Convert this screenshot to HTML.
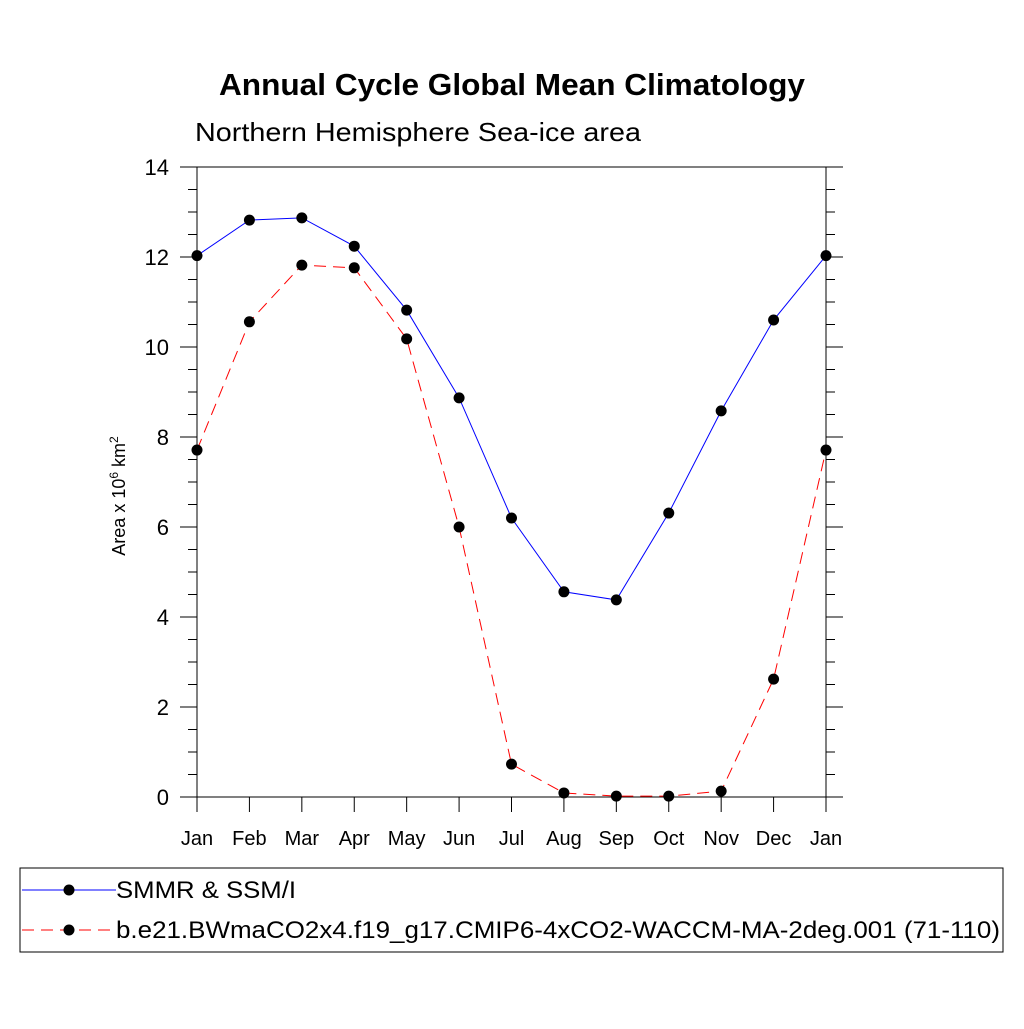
<!DOCTYPE html>
<html><head><meta charset="utf-8"><style>
body{margin:0;background:#fff}
svg text{font-family:"Liberation Sans",sans-serif;fill:#000}
</style></head><body>
<svg id="chart" width="1024" height="1024" viewBox="0 0 1024 1024">
<text x="512" y="95" text-anchor="middle" font-size="31" font-weight="bold" textLength="586" lengthAdjust="spacingAndGlyphs">Annual Cycle Global Mean Climatology</text>
<text x="195" y="141" font-size="26" textLength="446" lengthAdjust="spacingAndGlyphs">Northern Hemisphere Sea-ice area</text>
<text transform="translate(125,496) rotate(-90)" text-anchor="middle" font-size="18">Area x 10<tspan dy="-7" font-size="12">6</tspan><tspan dy="7"> km</tspan><tspan dy="-7" font-size="12">2</tspan></text>
<g id="axes"></g>
<g id="series"></g>
<rect x="20" y="868" width="983" height="84" fill="none" stroke="#000" stroke-width="1"/>
<g>
<line x1="22" y1="890" x2="116" y2="890" stroke="#0000ff" stroke-width="1"/>
<circle cx="69" cy="890" r="5.5" fill="#000"/>
<text x="116" y="898" font-size="24" textLength="180" lengthAdjust="spacingAndGlyphs">SMMR &amp; SSM/I</text>
</g>
<g>
<line x1="22" y1="930" x2="116" y2="930" stroke="#ff0000" stroke-width="1" stroke-dasharray="12,7"/>
<circle cx="69" cy="930" r="5.5" fill="#000"/>
<text x="116" y="938" font-size="24" textLength="884" lengthAdjust="spacingAndGlyphs">b.e21.BWmaCO2x4.f19_g17.CMIP6-4xCO2-WACCM-MA-2deg.001 (71-110)</text>
</g>
</svg>
<script>
const months=["Jan","Feb","Mar","Apr","May","Jun","Jul","Aug","Sep","Oct","Nov","Dec","Jan"];
const obsValues=[12.03,12.82,12.87,12.24,10.82,8.87,6.2,4.56,4.38,6.31,8.58,10.6,12.03];
const modelValues=[7.71,10.56,11.82,11.76,10.18,6.0,0.73,0.09,0.02,0.02,0.13,2.62,7.71];
const yTicks=[0,2,4,6,8,10,12,14];
const X0=197,X1=826,Y0=797,Y1=167,YMAX=14;
const ns="http://www.w3.org/2000/svg";
function xs(i){return X0+(X1-X0)*i/(months.length-1);}
function ys(v){return Y0-(Y0-Y1)*v/YMAX;}
function mk(tag,attrs,parent){const e=document.createElementNS(ns,tag);for(const k in attrs)e.setAttribute(k,attrs[k]);parent.appendChild(e);return e;}
const axes=document.getElementById('axes');
const frame=mk('rect',{x:X0,y:Y1,width:X1-X0,height:Y0-Y1,fill:'none',stroke:'#000','stroke-width':1},axes);


for(let v=0;v<=YMAX+0.001;v+=0.5){
  const major=Math.abs(v-Math.round(v/2)*2)<0.001;
  const L=major?17:9;
  mk('line',{x1:X0-L,y1:ys(v),x2:X0,y2:ys(v),stroke:'#000'},axes);
  mk('line',{x1:X1,y1:ys(v),x2:X1+L,y2:ys(v),stroke:'#000'},axes);
}
yTicks.forEach(v=>{
  const t=mk('text',{x:X0-28,y:ys(v)+8,'text-anchor':'end','font-size':22},axes);
  t.textContent=v;
  
  
});
months.forEach((m,i)=>{
  mk('line',{x1:xs(i),y1:Y0,x2:xs(i),y2:Y0+15,stroke:'#000'},axes);
  const t=mk('text',{x:xs(i),y:Y0+48,'text-anchor':'middle','font-size':20},axes);
  t.textContent=m;
  
  
});
const ser=document.getElementById('series');
function draw(vals,color,dash,name){
  const g=mk('g',{},ser);
  
  
  const p=mk('polyline',{points:vals.map((v,i)=>xs(i)+','+ys(v)).join(' '),fill:'none',stroke:color,'stroke-width':1},g);
  if(dash)p.setAttribute('stroke-dasharray',dash);
  vals.forEach((v,i)=>{
    const c=mk('circle',{cx:xs(i),cy:ys(v),r:5.5,fill:'#000'},g);
    
    
  });
}
draw(obsValues,'#0000ff',null,'series-obs');
draw(modelValues,'#ff0000','12,7','series-model');
</script>
</body></html>
